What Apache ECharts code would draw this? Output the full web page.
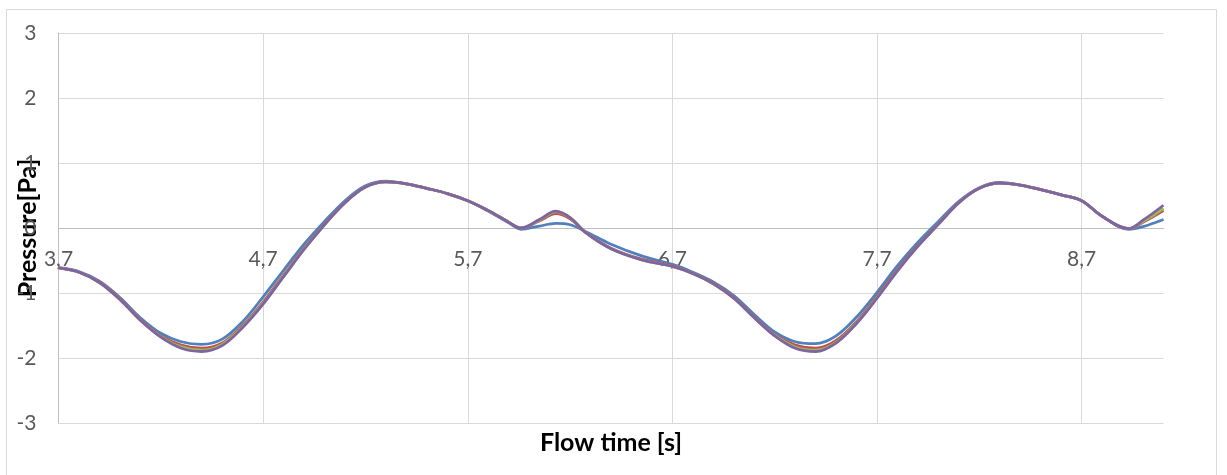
<!DOCTYPE html>
<html>
<head>
<meta charset="utf-8">
<title>Pressure vs flow time</title>
<script src="https://cdn.jsdelivr.net/npm/echarts@6/dist/echarts.min.js"></script>
<style>
  html, body { margin: 0; padding: 0; background: #ffffff; }
  #chart { width: 1227px; height: 475px; }
</style>
</head>
<body>
<div id="chart"></div>
<script>
// Flow time samples [s]
var flowTime = [3.7, 3.8, 3.9, 4.0, 4.1, 4.2, 4.3, 4.4, 4.5, 4.6, 4.7, 4.8, 4.9, 5.0, 5.1, 5.2, 5.3, 5.4, 5.5, 5.6, 5.7, 5.8, 5.9, 5.96, 6.05, 6.13, 6.2, 6.28, 6.4, 6.55, 6.7, 6.8, 6.9, 7.0, 7.1, 7.2, 7.3, 7.4, 7.5, 7.6, 7.7, 7.8, 7.9, 8.0, 8.1, 8.2, 8.3, 8.4, 8.5, 8.6, 8.7, 8.8, 8.93, 9.0, 9.1];

// Pressure [Pa] for each run
var pressureBlue = [-0.61, -0.67, -0.82, -1.07, -1.38, -1.62, -1.75, -1.79, -1.71, -1.44, -1.06, -0.65, -0.25, 0.10, 0.42, 0.65, 0.72, 0.68, 0.61, 0.53, 0.42, 0.26, 0.08, -0.02, 0.03, 0.07, 0.05, -0.06, -0.25, -0.43, -0.56, -0.68, -0.83, -1.04, -1.33, -1.60, -1.75, -1.78, -1.66, -1.37, -0.99, -0.58, -0.22, 0.10, 0.41, 0.62, 0.70, 0.66, 0.59, 0.51, 0.42, 0.18, -0.02, 0.02, 0.13];
var pressureRed = [-0.615, -0.68, -0.83, -1.09, -1.41, -1.66, -1.80, -1.85, -1.77, -1.50, -1.14, -0.72, -0.31, 0.06, 0.39, 0.63, 0.71, 0.68, 0.61, 0.53, 0.42, 0.27, 0.09, 0.00, 0.11, 0.22, 0.14, -0.08, -0.31, -0.48, -0.58, -0.70, -0.85, -1.07, -1.37, -1.64, -1.80, -1.85, -1.73, -1.44, -1.05, -0.64, -0.27, 0.06, 0.39, 0.61, 0.69, 0.66, 0.59, 0.51, 0.42, 0.18, -0.01, 0.09, 0.27];
var pressureGreen = [-0.615, -0.68, -0.84, -1.10, -1.42, -1.67, -1.83, -1.88, -1.79, -1.52, -1.16, -0.74, -0.32, 0.05, 0.39, 0.63, 0.71, 0.68, 0.61, 0.53, 0.42, 0.27, 0.09, 0.00, 0.12, 0.25, 0.16, -0.08, -0.32, -0.49, -0.59, -0.70, -0.86, -1.08, -1.38, -1.65, -1.83, -1.88, -1.76, -1.46, -1.07, -0.66, -0.28, 0.06, 0.39, 0.61, 0.69, 0.66, 0.59, 0.51, 0.42, 0.18, -0.01, 0.10, 0.30];
var pressurePurple = [-0.615, -0.68, -0.84, -1.10, -1.42, -1.68, -1.85, -1.90, -1.81, -1.53, -1.17, -0.75, -0.33, 0.05, 0.39, 0.63, 0.71, 0.68, 0.61, 0.53, 0.42, 0.27, 0.09, 0.00, 0.13, 0.26, 0.16, -0.08, -0.32, -0.49, -0.59, -0.70, -0.86, -1.08, -1.38, -1.66, -1.85, -1.90, -1.77, -1.47, -1.08, -0.66, -0.28, 0.06, 0.39, 0.61, 0.69, 0.66, 0.59, 0.51, 0.42, 0.18, -0.01, 0.12, 0.35];

var runs = [
  { name: 'Run 1', values: pressureBlue, color: '#4F81BD' },
  { name: 'Run 2', values: pressureRed, color: '#C0504D' },
  { name: 'Run 3', values: pressureGreen, color: '#9BBB59' },
  { name: 'Run 4', values: pressurePurple, color: '#8064A2' }
];

var xAxisMin = 3.7, xAxisMax = 9.1, xAxisStep = 1;
var yAxisMin = -3, yAxisMax = 3, yAxisStep = 1;

var labelFont = 'Lato, "Open Sans", sans-serif';

var gridTop = 33, gridBottom = 52, chartHeight = 475;
var plotHeight = chartHeight - gridTop - gridBottom;
// distance from the bottom edge of the plot up to the zero level
var zeroLift = plotHeight * (0 - yAxisMin) / (yAxisMax - yAxisMin);

function pairUp(xs, ys) {
  return xs.map(function (x, i) { return [x, ys[i]]; });
}

var chart = echarts.init(document.getElementById('chart'), null, { renderer: 'canvas' });

chart.setOption({
  animation: false,
  backgroundColor: '#ffffff',
  grid: { left: 58.5, right: 63.5, top: gridTop, bottom: gridBottom, outerBoundsMode: 'none', containLabel: false },
  title: {
    text: 'Flow time [s]',
    left: 611,
    top: 430,
    padding: 0,
    textAlign: 'center',
    textStyle: { fontFamily: labelFont, fontSize: 25, fontWeight: 'bold', color: '#000000' }
  },
  graphic: [{
    type: 'rect',
    z: -10,
    shape: { x: 6.5, y: 9.5, width: 1210, height: 500 },
    style: { fill: 'none', stroke: '#d9d9d9', lineWidth: 1 }
  }],
  xAxis: {
    type: 'value',
    min: xAxisMin,
    max: xAxisMax,
    interval: xAxisStep,
    offset: -zeroLift,
    axisLine: { onZero: false, lineStyle: { color: '#bfbfbf', width: 1 } },
    axisTick: { show: false },
    axisLabel: {
      margin: 21,
      showMaxLabel: false,
      color: '#595959',
      fontFamily: labelFont,
      fontSize: 21,
      formatter: function (v) { return v.toFixed(1).replace('.', ','); }
    },
    splitLine: { show: true, showMaxLine: false, lineStyle: { color: '#d9d9d9', width: 1 } }
  },
  yAxis: {
    type: 'value',
    min: yAxisMin,
    max: yAxisMax,
    interval: yAxisStep,
    name: 'Pressure[Pa]',
    nameLocation: 'middle',
    nameRotate: 90,
    nameGap: 18,
    nameMoveOverlap: false,
    nameTextStyle: { fontFamily: labelFont, fontSize: 25, fontWeight: 'bold', color: '#000000' },
    axisLine: { show: true, lineStyle: { color: '#bfbfbf', width: 1 } },
    axisTick: { show: false },
    axisLabel: { margin: 22, color: '#595959', fontFamily: labelFont, fontSize: 21 },
    splitLine: { show: true, lineStyle: { color: '#d9d9d9', width: 1 } }
  },
  series: runs.map(function (r) {
    return {
      name: r.name,
      type: 'line',
      data: pairUp(flowTime, r.values),
      smooth: 0.35,
      smoothConstraint: false,
      showSymbol: false,
      symbol: 'none',
      lineStyle: { color: r.color, width: 2.8 },
      itemStyle: { color: r.color },
      emphasis: { disabled: true }
    };
  })
});
</script>
</body>
</html>
